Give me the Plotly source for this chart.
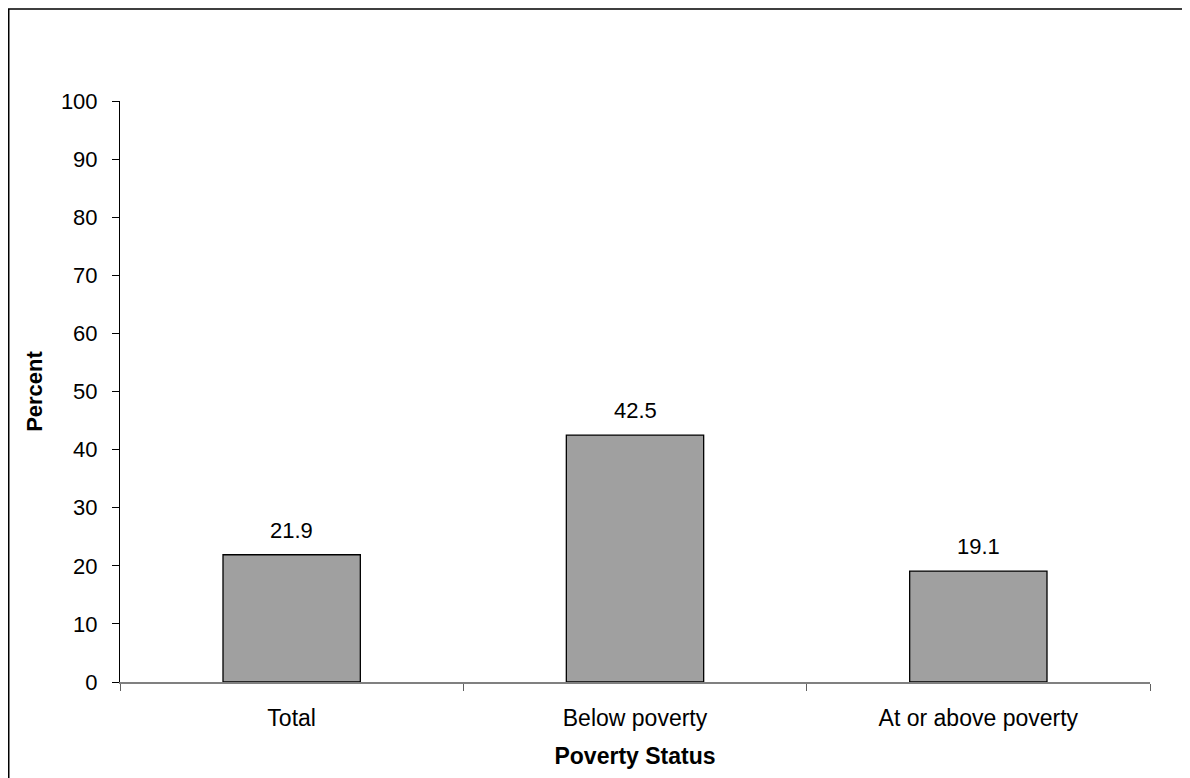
import plotly.graph_objects as go

categories = ["Total", "Below poverty", "At or above poverty"]
values = [21.9, 42.5, 19.1]
value_labels = ["21.9", "42.5", "19.1"]
y_ticks = [0, 10, 20, 30, 40, 50, 60, 70, 80, 90, 100]

W, H = 1190, 778
ml, mr, mt, mb = 112, 48, 93, 104
FONT = "Liberation Sans, Arial"
FS = 22

fig = go.Figure(go.Bar(
    x=categories, y=values,
    marker=dict(color="#A0A0A0", line=dict(color="black", width=1.3)),
    width=0.4,
))

for c, v, t in zip(categories, values, value_labels):
    fig.add_annotation(x=c, y=v, text=t, showarrow=False, yanchor="bottom",
                       yshift=10, font=dict(size=FS, color="black", family=FONT))

fig.update_layout(
    width=W, height=H,
    margin=dict(l=ml, r=mr, t=mt, b=mb),
    paper_bgcolor="white", plot_bgcolor="white",
    font=dict(family=FONT, size=FS, color="black"),
    showlegend=False,
    xaxis=dict(
        showline=True, linecolor="#808080", linewidth=2,
        ticks="outside", tickson="boundaries", ticklen=7, tickcolor="#606060",
        tickwidth=1, showgrid=False, zeroline=False,
        tickfont=dict(size=23),
        title=dict(text="<b>Poverty Status</b>", font=dict(size=23), standoff=18),
        ticklabelstandoff=14,
    ),
    yaxis=dict(
        range=[0, 100], tickvals=y_ticks, showline=True, linecolor="black",
        linewidth=1, ticks="outside", ticklen=7, tickcolor="black",
        showgrid=False, zeroline=False,
        title=dict(text="<b>Percent</b>", font=dict(size=FS), standoff=12),
        ticklabelstandoff=10,
    ),
)

# outer border of the chart area
pw = W - ml - mr
ph = H - mt - mb
fig.add_shape(type="rect", xref="paper", yref="paper",
              x0=(0.75 - ml) / pw, x1=(W + 20 - ml) / pw,
              y0=-(mb + 20) / ph, y1=1 + (mt - 1) / ph,
              line=dict(color="black", width=1.5), layer="below")

fig.write_html("out.html")
